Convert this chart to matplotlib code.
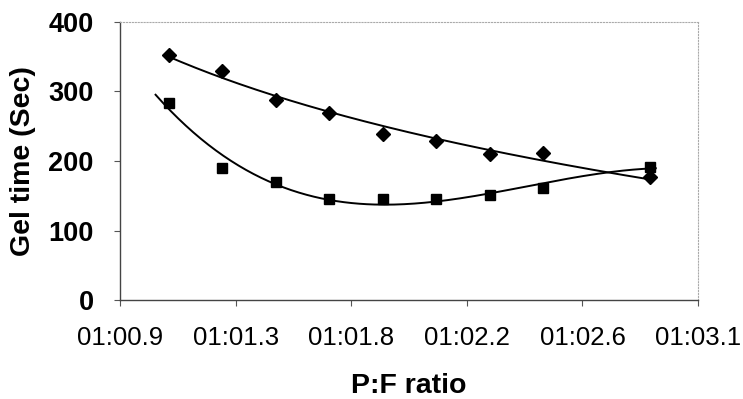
import matplotlib.pyplot as plt
import numpy as np

# P:F ratio (plotted on a time-formatted axis in the original)
ratio = [1.1, 1.3, 1.5, 1.7, 1.9, 2.1, 2.3, 2.5, 2.9]
gel_losango = [352, 329, 288, 269, 239, 229, 210, 212, 177]
gel_quadrado = [284, 190, 170, 145, 145, 145, 151, 161, 192]

x_ticks_lbl = ['01:00.9', '01:01.3', '01:01.8', '01:02.2', '01:02.6', '01:03.1']
y_ticks = [0, 100, 200, 300, 400]

plt.rcParams['font.family'] = ['Liberation Sans', 'DejaVu Sans']

fig = plt.figure(figsize=(7.43, 3.99), dpi=100)
ax = fig.add_axes([0.1615, 0.248, 0.778, 0.697])

# linhas de tendencia (losango: logaritmica, quadrado: polinomial 3a ordem)
c1 = np.polyfit(np.log(ratio), gel_losango, 1)
c2 = np.polyfit(ratio, gel_quadrado, 3)
xa = np.linspace(1.1, 2.9, 200)
xb = np.linspace(1.05, 2.92, 200)
ax.plot(xa, np.polyval(c1, np.log(xa)), color='black', lw=1.4)
ax.plot(xb, np.polyval(c2, xb), color='black', lw=1.4)

ax.plot(ratio, gel_losango, 'D', color='black', ms=7.5)
ax.plot(ratio, gel_quadrado, 's', color='black', ms=7.5)

x0, x1 = 0.917, 3.078
ax.set_xlim(x0, x1)
ax.set_ylim(0, 400)
ax.set_xticks(np.linspace(x0, x1, 6))
ax.set_xticklabels(x_ticks_lbl, fontsize=18.5)
ax.set_yticks(y_ticks)
ax.set_yticklabels([str(v) for v in y_ticks], fontsize=19.5, fontweight='bold')
ax.tick_params(axis='both', direction='out', length=4, width=0.8, color='#555555')
ax.tick_params(axis='x', pad=15)
ax.tick_params(axis='y', pad=15)

for s in ['left', 'bottom']:
    ax.spines[s].set_color('#444444')
    ax.spines[s].set_linewidth(1.0)
for s in ['top', 'right']:
    ax.spines[s].set_color('#aaaaaa')
    ax.spines[s].set_linewidth(0.8)
    ax.spines[s].set_linestyle(':')

ax.set_xlabel('P:F ratio', fontsize=20.5, fontweight='bold', labelpad=16)
ax.set_ylabel('Gel time (Sec)', fontsize=20.5, fontweight='bold', labelpad=9)

fig.savefig('out.png', dpi=100)
